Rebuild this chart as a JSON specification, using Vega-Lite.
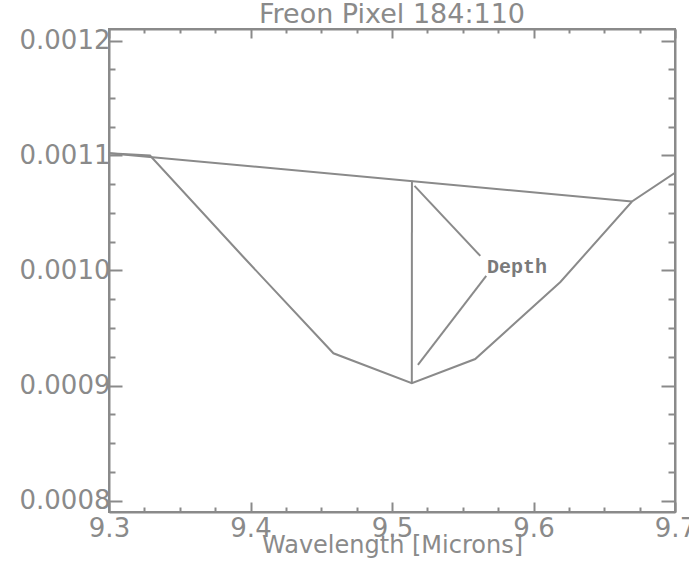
{
  "$schema": "https://vega.github.io/schema/vega-lite/v6.json",
  "width": 566,
  "height": 483,
  "autosize": {"type": "none"},
  "padding": {"left": 109, "top": 29, "right": 14, "bottom": 55},
  "background": "white",
  "title": {"text": "Freon Pixel 184:110", "fontSize": 27, "font": "DejaVu Sans", "fontWeight": "normal", "color": "#8a8a8a", "anchor": "middle", "offset": -1},
  "config": {"view": {"stroke": "#8a8a8a", "strokeWidth": 2}},
  "datasets": {
    "lines": [
      {"series": "spectrum", "wavelength": 9.3, "intensity": 0.001102},
      {"series": "spectrum", "wavelength": 9.329, "intensity": 0.0011},
      {"series": "spectrum", "wavelength": 9.394, "intensity": 0.001013},
      {"series": "spectrum", "wavelength": 9.4586, "intensity": 0.000928},
      {"series": "spectrum", "wavelength": 9.514, "intensity": 0.000902},
      {"series": "spectrum", "wavelength": 9.5588, "intensity": 0.000923},
      {"series": "spectrum", "wavelength": 9.619, "intensity": 0.00099},
      {"series": "spectrum", "wavelength": 9.6696, "intensity": 0.00106},
      {"series": "spectrum", "wavelength": 9.7, "intensity": 0.001085},
      {"series": "continuum", "wavelength": 9.3, "intensity": 0.001102},
      {"series": "continuum", "wavelength": 9.6696, "intensity": 0.00106},
      {"series": "depth", "wavelength": 9.514, "intensity": 0.000902},
      {"series": "depth", "wavelength": 9.5141, "intensity": 0.001078},
      {"series": "arrow1", "wavelength": 9.5159, "intensity": 0.0010736},
      {"series": "arrow1", "wavelength": 9.5624, "intensity": 0.0010127},
      {"series": "arrow2", "wavelength": 9.5183, "intensity": 0.000918},
      {"series": "arrow2", "wavelength": 9.5666, "intensity": 0.0009953}
    ],
    "labels": [
      {"label": "Depth", "wavelength": 9.5671, "intensity": 0.000998}
    ]
  },
  "layer": [
    {
      "data": {"name": "lines"},
      "mark": {"type": "line", "color": "#8a8a8a", "strokeWidth": 2, "clip": true},
      "encoding": {
        "x": {
          "field": "wavelength", "type": "quantitative",
          "scale": {"domain": [9.3, 9.7], "nice": false, "zero": false},
          "axis": {
            "orient": "bottom",
            "values": [9.3, 9.325, 9.35, 9.375, 9.4, 9.425, 9.45, 9.475, 9.5, 9.525, 9.55, 9.575, 9.6, 9.625, 9.65, 9.675, 9.7],
            "labelExpr": "abs(datum.value*10 - round(datum.value*10)) < 0.001 ? format(datum.value, '.1f') : ''",
            "tickSize": {"condition": {"test": "abs(datum.value*10 - round(datum.value*10)) < 0.001", "value": -10}, "value": -5},
            "tickColor": "#8a8a8a", "tickWidth": 2,
            "domainColor": "#8a8a8a", "domainWidth": 2,
            "grid": false,
            "labelFont": "DejaVu Sans", "labelFontSize": 26, "labelColor": "#8a8a8a",
            "labelPadding": 13, "labelFlush": false, "labelOverlap": false,
            "title": "Wavelength [Microns]",
            "titleFont": "DejaVu Sans", "titleFontSize": 24, "titleFontWeight": "normal", "titleColor": "#8a8a8a",
            "titlePadding": -13
          }
        },
        "y": {
          "field": "intensity", "type": "quantitative",
          "scale": {"domain": [0.00079, 0.00121], "nice": false, "zero": false},
          "axis": {
            "orient": "left",
            "values": [0.0008, 0.000825, 0.00085, 0.000875, 0.0009, 0.000925, 0.00095, 0.000975, 0.001, 0.001025, 0.00105, 0.001075, 0.0011, 0.001125, 0.00115, 0.001175, 0.0012],
            "labelExpr": "abs(datum.value*10000 - round(datum.value*10000)) < 0.001 ? format(datum.value, '.4f') : ''",
            "tickSize": {"condition": {"test": "abs(datum.value*10000 - round(datum.value*10000)) < 0.001", "value": -13}, "value": -6},
            "tickColor": "#8a8a8a", "tickWidth": 2,
            "domainColor": "#8a8a8a", "domainWidth": 2,
            "grid": false,
            "labelFont": "DejaVu Sans", "labelFontSize": 26, "labelColor": "#8a8a8a",
            "labelPadding": 12, "labelFlush": false, "labelOverlap": false,
            "title": null
          }
        },
        "detail": {"field": "series", "type": "nominal"}
      }
    },
    {
      "data": {"name": "labels"},
      "mark": {"type": "text", "font": "Liberation Mono", "fontWeight": "bold", "fontSize": 20, "color": "#7a7a7a", "align": "left", "baseline": "alphabetic"},
      "encoding": {
        "x": {
          "field": "wavelength", "type": "quantitative",
          "axis": {
            "orient": "top",
            "values": [9.3, 9.325, 9.35, 9.375, 9.4, 9.425, 9.45, 9.475, 9.5, 9.525, 9.55, 9.575, 9.6, 9.625, 9.65, 9.675, 9.7],
            "labels": false,
            "tickSize": {"condition": {"test": "abs(datum.value*10 - round(datum.value*10)) < 0.001", "value": -9}, "value": -4},
            "tickColor": "#8a8a8a", "tickWidth": 2,
            "domainColor": "#8a8a8a", "domainWidth": 2,
            "grid": false, "title": null
          }
        },
        "y": {
          "field": "intensity", "type": "quantitative",
          "axis": {
            "orient": "right",
            "values": [0.0008, 0.000825, 0.00085, 0.000875, 0.0009, 0.000925, 0.00095, 0.000975, 0.001, 0.001025, 0.00105, 0.001075, 0.0011, 0.001125, 0.00115, 0.001175, 0.0012],
            "labels": false,
            "tickSize": {"condition": {"test": "abs(datum.value*10000 - round(datum.value*10000)) < 0.001", "value": -14}, "value": -7},
            "tickColor": "#8a8a8a", "tickWidth": 2,
            "domainColor": "#8a8a8a", "domainWidth": 2,
            "grid": false, "title": null
          }
        },
        "text": {"field": "label", "type": "nominal"}
      }
    }
  ],
  "resolve": {"axis": {"x": "independent", "y": "independent"}}
}
